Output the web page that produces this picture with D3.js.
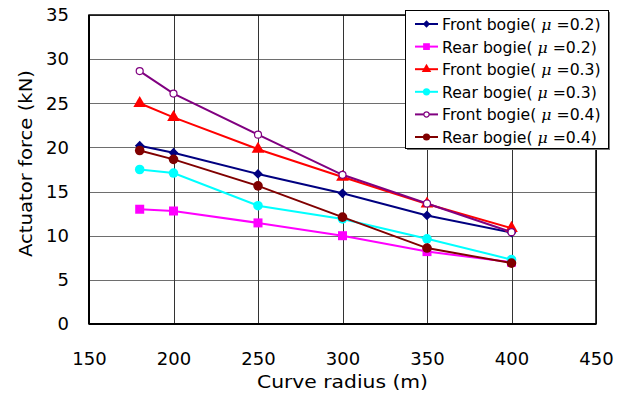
<!DOCTYPE html>
<html>
<head>
<meta charset="utf-8">
<script src="https://cdn.jsdelivr.net/npm/d3@7"></script>
<style>
  body { margin: 0; background: #fff; }
  text { font-family: "DejaVu Sans", sans-serif; fill: #000; }
</style>
</head>
<body>
<div id="chart"></div>
<script>
// curve radius (m)
var radii = [180, 200, 250, 300, 350, 400];

// actuator force (kN)
var frontMu02 = [20.2, 19.4, 17.0, 14.8, 12.3, 10.35];
var rearMu02  = [13.0, 12.8, 11.45, 10.0, 8.2, 7.0];
var frontMu03 = [25.0, 23.4, 19.8, 16.65, 13.6, 10.85];
var rearMu03  = [17.5, 17.1, 13.4, 11.9, 9.65, 7.3];
var frontMu04 = [28.65, 26.1, 21.45, 16.9, 13.65, 10.4];
var rearMu04  = [19.65, 18.65, 15.65, 12.1, 8.6, 6.9];

var seriesNames = ["Front bogie", "Rear bogie", "Front bogie", "Rear bogie", "Front bogie", "Rear bogie"];
var seriesMu = ["0.2", "0.2", "0.3", "0.3", "0.4", "0.4"];

var xTicks = [150, 200, 250, 300, 350, 400, 450];
var yTicks = [0, 5, 10, 15, 20, 25, 30, 35];

var series = [
  {name: seriesNames[0], mu: seriesMu[0], values: frontMu02, color: "#000080", shape: "diamond"},
  {name: seriesNames[1], mu: seriesMu[1], values: rearMu02,  color: "#ff00ff", shape: "square"},
  {name: seriesNames[2], mu: seriesMu[2], values: frontMu03, color: "#ff0000", shape: "triangle"},
  {name: seriesNames[3], mu: seriesMu[3], values: rearMu03,  color: "#00ffff", shape: "circle"},
  {name: seriesNames[4], mu: seriesMu[4], values: frontMu04, color: "#800080", shape: "open"},
  {name: seriesNames[5], mu: seriesMu[5], values: rearMu04,  color: "#800000", shape: "circle"}
];

var margin = {top: 15, right: 33, bottom: 79, left: 89};
var W = 629, H = 403;
var width = W - margin.left - margin.right;
var height = H - margin.top - margin.bottom;

var svg = d3.select("#chart").append("svg")
  .attr("width", W)
  .attr("height", H);

var g = svg.append("g")
  .attr("transform", "translate(" + margin.left + "," + margin.top + ")");

var x = d3.scaleLinear().domain([150, 450]).range([0, width]);
var y = d3.scaleLinear().domain([0, 35]).range([height, 0]);

// grid
g.append("g").selectAll("line").data(yTicks).enter().append("line")
  .attr("x1", 0).attr("x2", width)
  .attr("y1", d => Math.round(y(d)) + 0.5).attr("y2", d => Math.round(y(d)) + 0.5)
  .attr("stroke", "#6e6e6e").attr("stroke-width", 1);
g.append("g").selectAll("line").data(xTicks).enter().append("line")
  .attr("y1", 0).attr("y2", height)
  .attr("x1", d => Math.round(x(d)) + 0.5).attr("x2", d => Math.round(x(d)) + 0.5)
  .attr("stroke", "#333").attr("stroke-width", 1);

// frame
g.append("rect").attr("x", 0).attr("y", 0).attr("width", width).attr("height", height)
  .attr("fill", "none").attr("stroke", "#000").attr("stroke-width", 1.5);
g.append("line").attr("x1", 0).attr("x2", 0).attr("y1", 0).attr("y2", height)
  .attr("stroke", "#000").attr("stroke-width", 2);
g.append("line").attr("x1", 0).attr("x2", width).attr("y1", height).attr("y2", height)
  .attr("stroke", "#000").attr("stroke-width", 2);

// tick labels
var xAxis = d3.axisBottom(x).tickValues(xTicks).tickSize(0).tickPadding(28);
var xg = g.append("g").attr("transform", "translate(0," + height + ")").call(xAxis);
xg.select(".domain").remove();
xg.selectAll("text").style("font-size", "18px").attr("font-family", "DejaVu Sans, sans-serif");

var yAxis = d3.axisLeft(y).tickValues(yTicks).tickSize(0).tickPadding(20);
var yg = g.append("g").call(yAxis);
yg.select(".domain").remove();
yg.selectAll("text").style("font-size", "18px").attr("font-family", "DejaVu Sans, sans-serif");

// axis titles
svg.append("text")
  .attr("x", 257).attr("y", 388)
  .attr("textLength", 171).attr("lengthAdjust", "spacingAndGlyphs")
  .style("font-size", "17px")
  .text("Curve radius (m)");
svg.append("text")
  .attr("transform", "translate(32,257) rotate(-90)")
  .attr("textLength", 187).attr("lengthAdjust", "spacingAndGlyphs")
  .style("font-size", "17px")
  .text("Actuator force (kN)");

// marker drawing
function marker(sel, s, k) {
  k = k || 1;
  if (s.shape === "diamond") {
    sel.append("path").attr("d", d3.symbol().type(d3.symbolDiamond2 || d3.symbolDiamond).size(60 * k * k))
      .attr("fill", s.color);
  } else if (s.shape === "square") {
    sel.append("rect").attr("x", -4.5 * k).attr("y", -4.5 * k).attr("width", 9 * k).attr("height", 9 * k)
      .attr("fill", s.color);
  } else if (s.shape === "triangle") {
    sel.append("path").attr("d", d3.symbol().type(d3.symbolTriangle).size(70 * k * k))
      .attr("fill", s.color);
  } else if (s.shape === "circle") {
    sel.append("circle").attr("r", 4.8 * k).attr("fill", s.color);
  } else {
    sel.append("circle").attr("r", 3.5 * k).attr("fill", "#fff")
      .attr("stroke", s.color).attr("stroke-width", 1.2);
  }
}

var line = d3.line().x((d, i) => x(radii[i])).y(d => y(d));

series.forEach(function(s) {
  var sg = g.append("g");
  sg.append("path").datum(s.values)
    .attr("d", line).attr("fill", "none")
    .attr("stroke", s.color).attr("stroke-width", 2);
  sg.selectAll("g.pt").data(s.values).enter().append("g")
    .attr("class", "pt")
    .attr("transform", (d, i) => "translate(" + x(radii[i]) + "," + y(d) + ")")
    .each(function() { marker(d3.select(this), s); });
});

// legend
var lx = 405, ly = 10, lw = 203, lh = 138;
svg.append("rect").attr("x", lx + 2).attr("y", ly + 2).attr("width", lw).attr("height", lh)
  .attr("fill", "#777");
svg.append("rect").attr("x", lx + 0.5).attr("y", ly + 0.5).attr("width", lw).attr("height", lh)
  .attr("fill", "#fff").attr("stroke", "#000").attr("stroke-width", 1);

var leg = svg.append("g").selectAll("g").data(series).enter().append("g")
  .attr("transform", (d, i) => "translate(" + lx + "," + (ly + 14 + i * 22.6) + ")");
leg.append("line").attr("x1", 10).attr("x2", 33).attr("y1", 0).attr("y2", 0)
  .attr("stroke", d => d.color).attr("stroke-width", 2);
leg.append("g").attr("transform", "translate(21.5,0)")
  .each(function(d) { marker(d3.select(this), d, 0.75); });
var lt = leg.append("text").attr("x", 37).attr("y", 6)
  .style("font-size", "15.7px");
lt.append("tspan").text(d => d.name + "( ");
lt.append("tspan").style("font-style", "italic").attr("font-family", "DejaVu Serif, serif").text("\u03bc");
lt.append("tspan").text(d => " =" + d.mu + ")");
</script>
</body>
</html>
